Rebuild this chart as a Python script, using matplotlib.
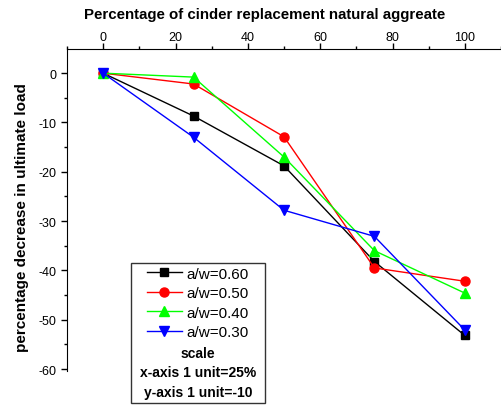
import matplotlib
matplotlib.use("Agg")
import matplotlib.pyplot as plt
from matplotlib.patches import Rectangle
from matplotlib.ticker import MultipleLocator

plt.rcParams['font.family'] = ['Liberation Sans', 'DejaVu Sans']
plt.rcParams['axes.unicode_minus'] = False

x = [0, 25, 50, 75, 100]
aw060 = [0, -8.7, -18.8, -38.2, -53.2]
aw050 = [0, -2.2, -12.9, -39.5, -42.2]
aw040 = [0, -0.8, -17.0, -36.0, -44.6]
aw030 = [0, -13.0, -27.8, -33.1, -52.1]

labels = ['a/w=0.60', 'a/w=0.50', 'a/w=0.40', 'a/w=0.30']
colors = ['#000000', '#ff0000', '#00ff00', '#0000ff']
markers = ['s', 'o', '^', 'v']
sizes = [5.5, 6.5, 7.5, 7.5]
note_lines = ['scale', 'x-axis 1 unit=25%', 'y-axis 1 unit=-10']
title = 'Percentage of cinder replacement natural aggreate'
ylabel = 'percentage decrease in ultimate load'

W, H = 501, 406
fig = plt.figure(figsize=(W / 100, H / 100), dpi=100)
ax = fig.add_axes([67 / W, 1 - 372 / H, 1 - 67 / W, (372 - 50) / H])

series = [aw060, aw050, aw040, aw030]
handles = []
for ys, lab, c, m, s in zip(series, labels, colors, markers, sizes):
    h, = ax.plot(x, ys, color=c, marker=m, markersize=s, lw=1.0, label=lab,
                 markeredgecolor=c, markerfacecolor=c)
    handles.append(h)

ax.set_xlim(-10, 110)
ax.set_ylim(-60.4, 4.9)
ax.xaxis.tick_top()
ax.spines['bottom'].set_visible(False)
ax.spines['right'].set_visible(False)
ax.xaxis.set_major_locator(MultipleLocator(20))
ax.xaxis.set_minor_locator(MultipleLocator(10))
ax.yaxis.set_major_locator(MultipleLocator(10))
ax.yaxis.set_minor_locator(MultipleLocator(5))
ax.tick_params(which='major', direction='out', length=4.3, width=1, labelsize=9)
ax.tick_params(axis='x', which='major', pad=0.3)
ax.tick_params(axis='y', which='major', pad=3.3)
ax.tick_params(which='minor', direction='out', length=2.5, width=1)

fig.text(265 / W, 1 - 15 / H, title, ha='center', va='center', fontsize=10.8,
         fontweight='bold')
fig.text(22 / W, 1 - 218 / H, ylabel, ha='center', va='center', rotation=90,
         fontsize=11, fontweight='bold')

# legend box with notes
bx0, by0, bx1, by1 = 131, 264, 265, 404
fig.patches.append(Rectangle((bx0 / W, 1 - by1 / H), (bx1 - bx0) / W, (by1 - by0) / H,
                             transform=fig.transFigure, fill=True, facecolor='white',
                             edgecolor='#333333', lw=1.0, zorder=5))
leg = fig.legend(handles=handles, labels=labels, loc='upper left',
                 bbox_to_anchor=(145 / W, 1 - 266 / H), frameon=False,
                 fontsize=11, handlelength=2.3, handletextpad=0.3,
                 labelspacing=0.36, borderaxespad=0, borderpad=0.1)
leg.set_zorder(6)
for i, t in enumerate(note_lines):
    fig.text(198 / W, 1 - (354 + i * 19.5) / H, t, ha='center', va='center',
             fontsize=10, fontweight='bold', zorder=7)

fig.savefig('out.png', dpi=100)
